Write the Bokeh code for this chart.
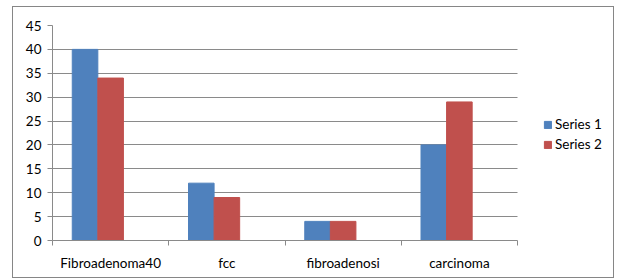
from bokeh.plotting import figure
from bokeh.layouts import column
from bokeh.models import FixedTicker, Range1d, Legend, LegendItem, ColumnDataSource
from bokeh.embed import file_html
from bokeh.resources import INLINE

categories = ["Fibroadenoma40", "fcc", "fibroadenosi", "carcinoma"]
series1 = [40, 12, 4, 20]
series2 = [34, 9, 4, 29]
series_names = ["Series 1", "Series 2"]
y_ticks = [0, 5, 10, 15, 20, 25, 30, 35, 40, 45]

FONT = "Lato"
FS = "13.5px"
GRID = "#8a8a8a"
BW = 0.22

W, H = 600, 270
LEFT, RIGHT, TOP, BOTTOM = 39, 2, 18, 37
PLOT_W = 465  # pixel width of the category area
frame_w = W - LEFT - RIGHT
n = len(categories)

centers = [i + 0.5 for i in range(n)]
src = ColumnDataSource(dict(
    x1=[c - BW for c in centers], x2=centers, s1=series1, s2=series2))

p = figure(width=W, height=H, output_backend="svg", toolbar_location=None,
           x_range=Range1d(0, n * frame_w / PLOT_W), y_range=Range1d(0, 45),
           min_border_left=LEFT, min_border_right=RIGHT, min_border_top=TOP, min_border_bottom=BOTTOM)
p.outline_line_color = None

r1 = p.vbar(x="x1", top="s1", width=BW, source=src, fill_color="#4F81BD", line_color="#4F81BD")
r2 = p.vbar(x="x2", top="s2", width=BW, source=src, fill_color="#C0504D", line_color="#C0504D")

# y axis
p.yaxis.ticker = FixedTicker(ticks=y_ticks)
p.yaxis.axis_line_color = GRID
p.yaxis.major_tick_line_color = GRID
p.yaxis.major_tick_out = 5
p.yaxis.major_tick_in = 0
p.yaxis.minor_tick_line_color = None
p.yaxis.major_label_text_font = FONT
p.yaxis.major_label_text_font_size = FS
p.yaxis.major_label_text_color = "black"
p.yaxis.major_label_standoff = 6

# x axis
p.xaxis.bounds = (0, n)
p.xaxis.ticker = FixedTicker(ticks=centers, minor_ticks=list(range(n + 1)))
p.xaxis.major_label_overrides = {c: name for c, name in zip(centers, categories)}
p.xaxis.axis_line_color = GRID
p.xaxis.major_tick_line_color = None
p.xaxis.minor_tick_line_color = GRID
p.xaxis.minor_tick_out = 5
p.xaxis.minor_tick_in = 0
p.xaxis.major_label_text_font = FONT
p.xaxis.major_label_text_font_size = FS
p.xaxis.major_label_text_color = "black"
p.xaxis.major_label_standoff = 8

p.xgrid.grid_line_color = None
p.ygrid.ticker = FixedTicker(ticks=y_ticks)
p.ygrid.grid_line_color = GRID
p.ygrid.cross_bounds = (0, n)

legend = Legend(items=[LegendItem(label=series_names[0], renderers=[r1]),
                       LegendItem(label=series_names[1], renderers=[r2])],
                location=(491, 88), orientation="vertical")
legend.border_line_color = None
legend.background_fill_alpha = 0
legend.glyph_width = 9
legend.glyph_height = 9
legend.label_text_font = FONT
legend.label_text_font_size = FS
legend.label_text_color = "black"
legend.label_standoff = 3
legend.spacing = 4
legend.label_height = 16
legend.padding = 0
legend.margin = 0
p.add_layout(legend, "center")

layout = column(p, styles={"border": "1px solid #868686", "margin-left": "12px",
                           "margin-top": "6px"})

open("out.html", "w").write(file_html(layout, INLINE))
